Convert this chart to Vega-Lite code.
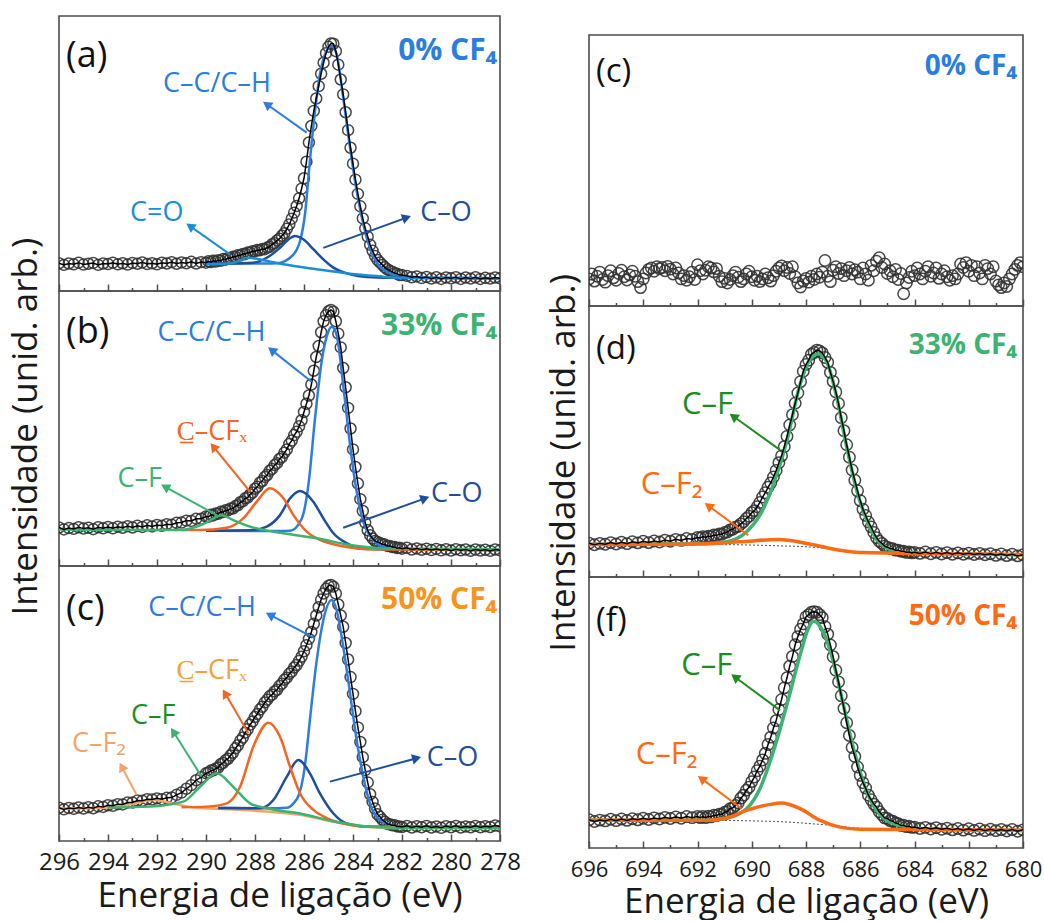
{
"$schema":"https://vega.github.io/schema/vega-lite/v6.json",
"padding":{"left":8,"top":15,"right":5,"bottom":0},
"config":{"font":"Open Sans","view":{"stroke":"#4d4d4d","strokeWidth":1.6},"axis":{"grid":false}},
"datasets":{
"a_pts":[{"x":296,"y":0.101},{"x":295.8,"y":0.095},{"x":295.6,"y":0.1},{"x":295.4,"y":0.097},{"x":295.2,"y":0.103},{"x":295,"y":0.096},{"x":294.8,"y":0.099},{"x":294.6,"y":0.102},{"x":294.4,"y":0.095},{"x":294.2,"y":0.1},{"x":294,"y":0.098},{"x":293.8,"y":0.103},{"x":293.6,"y":0.097},{"x":293.4,"y":0.101},{"x":293.2,"y":0.096},{"x":293,"y":0.102},{"x":292.8,"y":0.099},{"x":292.6,"y":0.104},{"x":292.4,"y":0.098},{"x":292.2,"y":0.101},{"x":292,"y":0.097},{"x":291.8,"y":0.103},{"x":291.6,"y":0.1},{"x":291.4,"y":0.105},{"x":291.2,"y":0.099},{"x":291,"y":0.104},{"x":290.8,"y":0.101},{"x":290.6,"y":0.106},{"x":290.4,"y":0.1},{"x":290.2,"y":0.105},
{"x":290,"y":0.103},{"x":289.9,"y":0.108},{"x":289.8,"y":0.105},{"x":289.7,"y":0.11},{"x":289.6,"y":0.107},{"x":289.5,"y":0.112},{"x":289.4,"y":0.11},{"x":289.3,"y":0.116},{"x":289.2,"y":0.114},{"x":289.1,"y":0.12},{"x":289,"y":0.119},{"x":288.9,"y":0.125},{"x":288.8,"y":0.124},{"x":288.7,"y":0.13},{"x":288.6,"y":0.129},{"x":288.5,"y":0.135},{"x":288.4,"y":0.134},{"x":288.3,"y":0.14},{"x":288.2,"y":0.139},{"x":288.1,"y":0.145},{"x":288,"y":0.144},{"x":287.9,"y":0.149},{"x":287.8,"y":0.148},{"x":287.7,"y":0.153},{"x":287.6,"y":0.152},{"x":287.5,"y":0.158},{"x":287.4,"y":0.161},{"x":287.3,"y":0.17},{"x":287.2,"y":0.174},{"x":287.1,"y":0.184},{"x":287,"y":0.19},{"x":286.9,"y":0.201},{"x":286.8,"y":0.21},{"x":286.7,"y":0.226},{"x":286.6,"y":0.242},{"x":286.5,"y":0.263},{"x":286.4,"y":0.285},{"x":286.3,"y":0.309},{"x":286.2,"y":0.337},{"x":286.1,"y":0.372},{"x":286,"y":0.41},{"x":285.9,"y":0.47},{"x":285.8,"y":0.54},{"x":285.7,"y":0.6},{"x":285.6,"y":0.655},{"x":285.5,"y":0.7},{"x":285.4,"y":0.745},{"x":285.3,"y":0.79},{"x":285.2,"y":0.83},{"x":285.1,"y":0.865},{"x":285,"y":0.888},{"x":284.9,"y":0.9},{"x":284.8,"y":0.899},{"x":284.7,"y":0.872},{"x":284.6,"y":0.823},{"x":284.5,"y":0.769},{"x":284.4,"y":0.715},{"x":284.3,"y":0.65},{"x":284.2,"y":0.585},{"x":284.1,"y":0.521},{"x":284,"y":0.463},{"x":283.9,"y":0.405},{"x":283.8,"y":0.353},{"x":283.7,"y":0.308},{"x":283.6,"y":0.264},{"x":283.5,"y":0.228},{"x":283.4,"y":0.198},{"x":283.3,"y":0.168},{"x":283.2,"y":0.146},{"x":283.1,"y":0.127},{"x":283,"y":0.113},{"x":282.9,"y":0.104},{"x":282.8,"y":0.095},{"x":282.7,"y":0.086},{"x":282.6,"y":0.079},{"x":282.5,"y":0.074},{"x":282.4,"y":0.07},{"x":282.3,"y":0.065},{"x":282.2,"y":0.063},{"x":282.1,"y":0.058},{"x":282,"y":0.058},
{"x":281.8,"y":0.055},{"x":281.6,"y":0.05},{"x":281.4,"y":0.053},{"x":281.2,"y":0.047},{"x":281,"y":0.051},{"x":280.8,"y":0.045},{"x":280.6,"y":0.05},{"x":280.4,"y":0.044},{"x":280.2,"y":0.049},{"x":280,"y":0.046},{"x":279.8,"y":0.05},{"x":279.6,"y":0.044},{"x":279.4,"y":0.049},{"x":279.2,"y":0.045},{"x":279,"y":0.05},{"x":278.8,"y":0.044},{"x":278.6,"y":0.048},{"x":278.4,"y":0.045},{"x":278.2,"y":0.049},{"x":278,"y":0.046}],
"a_cmp":[
{"k":"cc","x":290,"y":0.1},{"k":"cc","x":288.5,"y":0.1},{"k":"cc","x":287.5,"y":0.1},{"k":"cc","x":287.1,"y":0.101},{"k":"cc","x":286.8,"y":0.108},{"k":"cc","x":286.57,"y":0.121},{"k":"cc","x":286.3,"y":0.15},{"k":"cc","x":286.16,"y":0.182},{"k":"cc","x":285.96,"y":0.279},{"k":"cc","x":285.76,"y":0.473},{"k":"cc","x":285.55,"y":0.655},{"k":"cc","x":285.35,"y":0.788},{"k":"cc","x":285.14,"y":0.861},{"k":"cc","x":284.87,"y":0.891},{"k":"cc","x":284.67,"y":0.861},{"k":"cc","x":284.4,"y":0.703},{"k":"cc","x":284.12,"y":0.521},{"k":"cc","x":283.85,"y":0.364},{"k":"cc","x":283.58,"y":0.243},{"k":"cc","x":283.31,"y":0.157},{"k":"cc","x":283.03,"y":0.103},{"k":"cc","x":282.63,"y":0.07},{"k":"cc","x":282.08,"y":0.055},{"k":"cc","x":280,"y":0.047},{"k":"cc","x":278,"y":0.046},
{"k":"co","x":290,"y":0.1},{"k":"co","x":289,"y":0.1},{"k":"co","x":288.07,"y":0.103},{"k":"co","x":287.52,"y":0.121},{"k":"co","x":286.98,"y":0.157},{"k":"co","x":286.57,"y":0.192},{"k":"co","x":286.37,"y":0.2},{"k":"co","x":286.03,"y":0.188},{"k":"co","x":285.62,"y":0.152},{"k":"co","x":285.21,"y":0.115},{"k":"co","x":284.8,"y":0.085},{"k":"co","x":284.12,"y":0.061},{"k":"co","x":283.44,"y":0.051},{"k":"co","x":282.5,"y":0.048},{"k":"co","x":278,"y":0.046},
{"k":"ceo","x":290,"y":0.097},{"k":"ceo","x":289.7,"y":0.097},{"k":"ceo","x":288.89,"y":0.103},{"k":"ceo","x":288.27,"y":0.121},{"k":"ceo","x":287.66,"y":0.112},{"k":"ceo","x":286.84,"y":0.097},{"k":"ceo","x":285.48,"y":0.079},{"k":"ceo","x":284.12,"y":0.063},{"k":"ceo","x":282.76,"y":0.052},{"k":"ceo","x":282.08,"y":0.047},{"k":"ceo","x":278,"y":0.046}],
"a_arr":[{"x":285.89,"y":0.576,"x2":287.52,"y2":0.679,"a":-54.6,"k":"cc"},{"x":289.02,"y":0.133,"x2":290.65,"y2":0.236,"a":-54.7,"k":"ceo"},{"x":285.21,"y":0.157,"x2":281.81,"y2":0.267,"a":70.2,"k":"co"}],
"a_txt":[{"r":"g","x":295.71,"y":0.855,"t":"(a)"},{"r":"p","x":278.12,"y":0.871,"t":"0% CF₄","k":"p0"},{"r":"n","x":289.55,"y":0.753,"t":"C–C/C–H","k":"cc"},{"r":"n","x":292.01,"y":0.284,"t":"C=O","k":"ceo"},{"r":"n","x":280.2,"y":0.284,"t":"C–O","k":"co"}],
"b_pts":[{"x":296,"y":0.14},{"x":295.8,"y":0.133},{"x":295.6,"y":0.138},{"x":295.4,"y":0.135},{"x":295.2,"y":0.141},{"x":295,"y":0.136},{"x":294.8,"y":0.139},{"x":294.6,"y":0.134},{"x":294.4,"y":0.141},{"x":294.2,"y":0.137},{"x":294,"y":0.142},{"x":293.8,"y":0.137},{"x":293.6,"y":0.143},{"x":293.4,"y":0.139},{"x":293.2,"y":0.145},{"x":293,"y":0.14},{"x":292.8,"y":0.146},{"x":292.6,"y":0.142},{"x":292.4,"y":0.148},{"x":292.2,"y":0.144},{"x":292,"y":0.149},{"x":291.8,"y":0.146},{"x":291.6,"y":0.152},{"x":291.4,"y":0.15},{"x":291.2,"y":0.157},{"x":291,"y":0.158},{"x":290.8,"y":0.165},{"x":290.6,"y":0.164},{"x":290.4,"y":0.172},{"x":290.2,"y":0.172},
{"x":290,"y":0.18},{"x":289.9,"y":0.179},{"x":289.8,"y":0.186},{"x":289.7,"y":0.184},{"x":289.6,"y":0.191},{"x":289.5,"y":0.19},{"x":289.4,"y":0.197},{"x":289.3,"y":0.196},{"x":289.2,"y":0.203},{"x":289.1,"y":0.202},{"x":289,"y":0.209},{"x":288.9,"y":0.209},{"x":288.8,"y":0.218},{"x":288.7,"y":0.221},{"x":288.6,"y":0.232},{"x":288.5,"y":0.235},{"x":288.4,"y":0.246},{"x":288.3,"y":0.249},{"x":288.2,"y":0.26},{"x":288.1,"y":0.267},{"x":288,"y":0.281},{"x":287.9,"y":0.288},{"x":287.8,"y":0.303},{"x":287.7,"y":0.309},{"x":287.6,"y":0.324},{"x":287.5,"y":0.331},{"x":287.4,"y":0.346},{"x":287.3,"y":0.353},{"x":287.2,"y":0.367},{"x":287.1,"y":0.374},{"x":287,"y":0.389},{"x":286.9,"y":0.396},{"x":286.8,"y":0.412},{"x":286.7,"y":0.424},{"x":286.6,"y":0.444},{"x":286.5,"y":0.456},{"x":286.4,"y":0.476},{"x":286.3,"y":0.488},{"x":286.2,"y":0.508},{"x":286.1,"y":0.53},{"x":286,"y":0.56},{"x":285.9,"y":0.59},{"x":285.8,"y":0.62},{"x":285.7,"y":0.66},{"x":285.6,"y":0.71},{"x":285.5,"y":0.76},{"x":285.4,"y":0.8},{"x":285.3,"y":0.85},{"x":285.2,"y":0.89},{"x":285.1,"y":0.912},{"x":285,"y":0.926},{"x":284.9,"y":0.931},{"x":284.8,"y":0.925},{"x":284.7,"y":0.89},{"x":284.6,"y":0.845},{"x":284.5,"y":0.795},{"x":284.4,"y":0.72},{"x":284.3,"y":0.65},{"x":284.2,"y":0.575},{"x":284.1,"y":0.5},{"x":284,"y":0.424},{"x":283.9,"y":0.36},{"x":283.8,"y":0.3},{"x":283.7,"y":0.243},{"x":283.6,"y":0.2},{"x":283.5,"y":0.158},{"x":283.4,"y":0.13},{"x":283.3,"y":0.112},{"x":283.2,"y":0.1},{"x":283.1,"y":0.091},{"x":283,"y":0.087},{"x":282.9,"y":0.084},{"x":282.8,"y":0.079},{"x":282.7,"y":0.078},{"x":282.6,"y":0.073},{"x":282.5,"y":0.073},{"x":282.4,"y":0.069},{"x":282.3,"y":0.069},{"x":282.2,"y":0.065},{"x":282.1,"y":0.066},{"x":282,"y":0.063},
{"x":281.8,"y":0.066},{"x":281.6,"y":0.06},{"x":281.4,"y":0.064},{"x":281.2,"y":0.059},{"x":281,"y":0.063},{"x":280.8,"y":0.058},{"x":280.6,"y":0.062},{"x":280.4,"y":0.057},{"x":280.2,"y":0.061},{"x":280,"y":0.056},{"x":279.8,"y":0.061},{"x":279.6,"y":0.057},{"x":279.4,"y":0.06},{"x":279.2,"y":0.055},{"x":279,"y":0.06},{"x":278.8,"y":0.056},{"x":278.6,"y":0.059},{"x":278.4,"y":0.055},{"x":278.2,"y":0.06},{"x":278,"y":0.057}],
"b_cmp":[
{"k":"cc","x":290,"y":0.128},{"k":"cc","x":287,"y":0.127},{"k":"cc","x":286.57,"y":0.128},{"k":"cc","x":286.09,"y":0.173},{"k":"cc","x":285.82,"y":0.295},{"k":"cc","x":285.55,"y":0.537},{"k":"cc","x":285.28,"y":0.743},{"k":"cc","x":285.01,"y":0.852},{"k":"cc","x":284.87,"y":0.87},{"k":"cc","x":284.67,"y":0.84},{"k":"cc","x":284.4,"y":0.658},{"k":"cc","x":284.12,"y":0.44},{"k":"cc","x":283.85,"y":0.27},{"k":"cc","x":283.58,"y":0.161},{"k":"cc","x":283.17,"y":0.095},{"k":"cc","x":282.76,"y":0.07},{"k":"cc","x":282.08,"y":0.062},{"k":"cc","x":278,"y":0.058},
{"k":"co","x":290,"y":0.128},{"k":"co","x":288.07,"y":0.131},{"k":"co","x":287.52,"y":0.143},{"k":"co","x":286.98,"y":0.185},{"k":"co","x":286.57,"y":0.246},{"k":"co","x":286.16,"y":0.273},{"k":"co","x":285.62,"y":0.234},{"k":"co","x":285.21,"y":0.173},{"k":"co","x":284.8,"y":0.119},{"k":"co","x":284.26,"y":0.083},{"k":"co","x":283.71,"y":0.064},{"k":"co","x":282.76,"y":0.061},{"k":"co","x":278,"y":0.058},
{"k":"ccfx","x":291,"y":0.131},{"k":"ccfx","x":290.24,"y":0.131},{"k":"ccfx","x":289.15,"y":0.139},{"k":"ccfx","x":288.48,"y":0.173},{"k":"ccfx","x":287.93,"y":0.234},{"k":"ccfx","x":287.39,"y":0.283},{"k":"ccfx","x":286.84,"y":0.246},{"k":"ccfx","x":286.43,"y":0.185},{"k":"ccfx","x":285.89,"y":0.125},{"k":"ccfx","x":285.35,"y":0.095},{"k":"ccfx","x":284.8,"y":0.079},{"k":"ccfx","x":284.12,"y":0.067},{"k":"ccfx","x":283.44,"y":0.061},{"k":"ccfx","x":278,"y":0.058},
{"k":"cf","x":296,"y":0.133},{"k":"cf","x":291,"y":0.131},{"k":"cf","x":290.05,"y":0.155},{"k":"cf","x":289.36,"y":0.185},{"k":"cf","x":288.89,"y":0.167},{"k":"cf","x":288.2,"y":0.143},{"k":"cf","x":286.84,"y":0.119},{"k":"cf","x":285.48,"y":0.101},{"k":"cf","x":284.12,"y":0.076},{"k":"cf","x":282.76,"y":0.064},{"k":"cf","x":278,"y":0.061}],
"b_arr":[{"x":285.69,"y":0.67,"x2":287.32,"y2":0.785,"a":-51.6,"k":"cc"},{"x":288.2,"y":0.27,"x2":289.7,"y2":0.434,"a":-39.2,"k":"ccfx"},{"x":289.56,"y":0.185,"x2":291.67,"y2":0.288,"a":-61.3,"k":"cf"},{"x":284.4,"y":0.139,"x2":281.06,"y2":0.246,"a":70.3,"k":"co"}],
"b_txt":[{"r":"g","x":295.71,"y":0.851,"t":"(b)"},{"r":"p","x":278.12,"y":0.873,"t":"33% CF₄","k":"p33"},{"r":"n","x":289.78,"y":0.847,"t":"C–C/C–H","k":"cc"},{"r":"n","x":289.76,"y":0.487,"t":"C̲–CFₓ","k":"ccfx"},{"r":"n","x":292.71,"y":0.316,"t":"C–F","k":"cf"},{"r":"n","x":279.77,"y":0.262,"t":"C–O","k":"co"}],
"c_pts":[{"x":296,"y":0.121},{"x":295.8,"y":0.115},{"x":295.6,"y":0.12},{"x":295.4,"y":0.117},{"x":295.2,"y":0.122},{"x":295,"y":0.118},{"x":294.8,"y":0.123},{"x":294.6,"y":0.119},{"x":294.4,"y":0.126},{"x":294.2,"y":0.124},{"x":294,"y":0.13},{"x":293.8,"y":0.128},{"x":293.6,"y":0.134},{"x":293.4,"y":0.133},{"x":293.2,"y":0.14},{"x":293,"y":0.14},{"x":292.8,"y":0.147},{"x":292.6,"y":0.146},{"x":292.4,"y":0.152},{"x":292.2,"y":0.151},{"x":292,"y":0.155},{"x":291.8,"y":0.152},{"x":291.6,"y":0.157},{"x":291.4,"y":0.158},{"x":291.2,"y":0.168},{"x":291,"y":0.176},{"x":290.8,"y":0.19},{"x":290.6,"y":0.203},{"x":290.4,"y":0.221},{"x":290.2,"y":0.232},
{"x":290,"y":0.246},{"x":289.9,"y":0.249},{"x":289.8,"y":0.256},{"x":289.7,"y":0.257},{"x":289.6,"y":0.264},{"x":289.5,"y":0.267},{"x":289.4,"y":0.279},{"x":289.3,"y":0.284},{"x":289.2,"y":0.294},{"x":289.1,"y":0.299},{"x":289,"y":0.311},{"x":288.9,"y":0.321},{"x":288.8,"y":0.337},{"x":288.7,"y":0.348},{"x":288.6,"y":0.365},{"x":288.5,"y":0.376},{"x":288.4,"y":0.394},{"x":288.3,"y":0.406},{"x":288.2,"y":0.423},{"x":288.1,"y":0.435},{"x":288,"y":0.451},{"x":287.9,"y":0.462},{"x":287.8,"y":0.478},{"x":287.7,"y":0.488},{"x":287.6,"y":0.504},{"x":287.5,"y":0.514},{"x":287.4,"y":0.526},{"x":287.3,"y":0.532},{"x":287.2,"y":0.544},{"x":287.1,"y":0.55},{"x":287,"y":0.564},{"x":286.9,"y":0.572},{"x":286.8,"y":0.586},{"x":286.7,"y":0.594},{"x":286.6,"y":0.608},{"x":286.5,"y":0.616},{"x":286.4,"y":0.631},{"x":286.3,"y":0.64},{"x":286.2,"y":0.655},{"x":286.1,"y":0.67},{"x":286,"y":0.69},{"x":285.9,"y":0.712},{"x":285.8,"y":0.735},{"x":285.7,"y":0.76},{"x":285.6,"y":0.79},{"x":285.5,"y":0.82},{"x":285.4,"y":0.85},{"x":285.3,"y":0.878},{"x":285.2,"y":0.9},{"x":285.1,"y":0.917},{"x":285,"y":0.928},{"x":284.9,"y":0.931},{"x":284.8,"y":0.925},{"x":284.7,"y":0.9},{"x":284.6,"y":0.86},{"x":284.5,"y":0.82},{"x":284.4,"y":0.779},{"x":284.3,"y":0.72},{"x":284.2,"y":0.66},{"x":284.1,"y":0.596},{"x":284,"y":0.535},{"x":283.9,"y":0.472},{"x":283.8,"y":0.413},{"x":283.7,"y":0.36},{"x":283.6,"y":0.305},{"x":283.5,"y":0.258},{"x":283.4,"y":0.213},{"x":283.3,"y":0.17},{"x":283.2,"y":0.142},{"x":283.1,"y":0.118},{"x":283,"y":0.097},{"x":282.9,"y":0.088},{"x":282.8,"y":0.077},{"x":282.7,"y":0.07},{"x":282.6,"y":0.062},{"x":282.5,"y":0.061},{"x":282.4,"y":0.057},{"x":282.3,"y":0.057},{"x":282.2,"y":0.053},{"x":282.1,"y":0.053},{"x":282,"y":0.051},
{"x":281.8,"y":0.055},{"x":281.6,"y":0.049},{"x":281.4,"y":0.054},{"x":281.2,"y":0.05},{"x":281,"y":0.055},{"x":280.8,"y":0.049},{"x":280.6,"y":0.053},{"x":280.4,"y":0.048},{"x":280.2,"y":0.054},{"x":280,"y":0.05},{"x":279.8,"y":0.055},{"x":279.6,"y":0.049},{"x":279.4,"y":0.053},{"x":279.2,"y":0.05},{"x":279,"y":0.055},{"x":278.8,"y":0.05},{"x":278.6,"y":0.054},{"x":278.4,"y":0.051},{"x":278.2,"y":0.056},{"x":278,"y":0.053}],
"c_cmp":[
{"k":"cf2l","x":296,"y":0.118},{"k":"cf2l","x":294,"y":0.122},{"k":"cf2l","x":293,"y":0.135},{"k":"cf2l","x":292.15,"y":0.149},{"k":"cf2l","x":291.3,"y":0.135},{"k":"cf2l","x":290.5,"y":0.122},{"k":"cf2l","x":289,"y":0.115},{"k":"cf2l","x":287.52,"y":0.107},{"k":"cf2l","x":286.16,"y":0.095},{"k":"cf2l","x":284.8,"y":0.07},{"k":"cf2l","x":283.44,"y":0.052},{"k":"cf2l","x":282.08,"y":0.046},{"k":"cf2l","x":278,"y":0.046},
{"k":"cc","x":289.5,"y":0.12},{"k":"cc","x":287.52,"y":0.119},{"k":"cc","x":286.7,"y":0.121},{"k":"cc","x":286.43,"y":0.137},{"k":"cc","x":286.2,"y":0.17},{"k":"cc","x":286.03,"y":0.234},{"k":"cc","x":285.9,"y":0.32},{"k":"cc","x":285.76,"y":0.44},{"k":"cc","x":285.48,"y":0.658},{"k":"cc","x":285.21,"y":0.804},{"k":"cc","x":284.87,"y":0.876},{"k":"cc","x":284.67,"y":0.84},{"k":"cc","x":284.4,"y":0.707},{"k":"cc","x":284.12,"y":0.537},{"k":"cc","x":283.85,"y":0.367},{"k":"cc","x":283.58,"y":0.234},{"k":"cc","x":283.31,"y":0.137},{"k":"cc","x":282.9,"y":0.076},{"k":"cc","x":282.08,"y":0.052},{"k":"cc","x":278,"y":0.052},
{"k":"co","x":289.5,"y":0.12},{"k":"co","x":287.8,"y":0.119},{"k":"co","x":287.25,"y":0.149},{"k":"co","x":286.7,"y":0.234},{"k":"co","x":286.23,"y":0.295},{"k":"co","x":285.76,"y":0.246},{"k":"co","x":285.35,"y":0.173},{"k":"co","x":284.8,"y":0.1},{"k":"co","x":284.26,"y":0.064},{"k":"co","x":283.44,"y":0.052},{"k":"co","x":278,"y":0.052},
{"k":"ccfx","x":291,"y":0.123},{"k":"ccfx","x":289.97,"y":0.125},{"k":"ccfx","x":289.15,"y":0.137},{"k":"ccfx","x":288.61,"y":0.197},{"k":"ccfx","x":288.07,"y":0.343},{"k":"ccfx","x":287.45,"y":0.43},{"k":"ccfx","x":286.98,"y":0.379},{"k":"ccfx","x":286.57,"y":0.27},{"k":"ccfx","x":286.16,"y":0.173},{"k":"ccfx","x":285.62,"y":0.113},{"k":"ccfx","x":285.07,"y":0.083},{"k":"ccfx","x":284.12,"y":0.058},{"k":"ccfx","x":283.44,"y":0.052},{"k":"ccfx","x":278,"y":0.052},
{"k":"cf","x":294,"y":0.122},{"k":"cf","x":292.29,"y":0.125},{"k":"cf","x":290.93,"y":0.143},{"k":"cf","x":290.24,"y":0.197},{"k":"cf","x":289.56,"y":0.246},{"k":"cf","x":288.89,"y":0.197},{"k":"cf","x":288.2,"y":0.137},{"k":"cf","x":287.52,"y":0.119},{"k":"cf","x":286.16,"y":0.1},{"k":"cf","x":284.8,"y":0.072},{"k":"cf","x":283.44,"y":0.053},{"k":"cf","x":282,"y":0.048},{"k":"cf","x":278,"y":0.048}],
"c_arr":[{"x":285.55,"y":0.737,"x2":287.39,"y2":0.822,"a":-62.6,"k":"cc"},{"x":288.27,"y":0.392,"x2":289.22,"y2":0.537,"a":-30.2,"k":"ccfx"},{"x":290.18,"y":0.234,"x2":291.33,"y2":0.397,"a":-32.3,"k":"cf"},{"x":292.83,"y":0.167,"x2":293.44,"y2":0.27,"a":-27.9,"k":"cf2l"},{"x":284.94,"y":0.216,"x2":281.4,"y2":0.301,"a":74.9,"k":"co"}],
"c_txt":[{"r":"g","x":295.71,"y":0.844,"t":"(c)"},{"r":"p","x":278.12,"y":0.876,"t":"50% CF₄","k":"p50l"},{"r":"n","x":290.16,"y":0.849,"t":"C–C/C–H","k":"cc"},{"r":"n","x":289.77,"y":0.618,"t":"C̲–CFₓ","k":"ccfxl"},{"r":"n","x":292.15,"y":0.455,"t":"C–F","k":"cfd"},{"r":"n","x":294.37,"y":0.353,"t":"C–F₂","k":"cf2l"},{"r":"n","x":279.94,"y":0.302,"t":"C–O","k":"co"}],
"rc_pts":[{"x":696,"y":0.1},{"x":695.9,"y":0.118},{"x":695.8,"y":0.092},{"x":695.7,"y":0.11},{"x":695.6,"y":0.125},{"x":695.5,"y":0.098},{"x":695.4,"y":0.088},{"x":695.3,"y":0.112},{"x":695.2,"y":0.13},{"x":695.1,"y":0.104},{"x":695,"y":0.095},{"x":694.9,"y":0.12},{"x":694.8,"y":0.132},{"x":694.7,"y":0.108},{"x":694.6,"y":0.096},{"x":694.5,"y":0.115},{"x":694.4,"y":0.128},{"x":694.3,"y":0.11},{"x":694.2,"y":0.09},{"x":694.1,"y":0.068},{"x":694,"y":0.1},{"x":693.9,"y":0.122},{"x":693.8,"y":0.135},{"x":693.7,"y":0.14},{"x":693.6,"y":0.128},{"x":693.5,"y":0.145},{"x":693.4,"y":0.138},{"x":693.3,"y":0.142},{"x":693.2,"y":0.13},{"x":693.1,"y":0.146},{"x":693,"y":0.136},{"x":692.9,"y":0.118},{"x":692.8,"y":0.14},{"x":692.7,"y":0.122},{"x":692.6,"y":0.1},{"x":692.5,"y":0.112},{"x":692.4,"y":0.095},{"x":692.3,"y":0.108},{"x":692.2,"y":0.125},{"x":692.1,"y":0.098},{"x":692,"y":0.152},{"x":691.9,"y":0.13},{"x":691.8,"y":0.118},{"x":691.7,"y":0.132},{"x":691.6,"y":0.145},{"x":691.5,"y":0.14},{"x":691.4,"y":0.126},{"x":691.3,"y":0.138},{"x":691.2,"y":0.11},{"x":691.1,"y":0.09},{"x":691,"y":0.102},{"x":690.9,"y":0.085},{"x":690.8,"y":0.098},{"x":690.7,"y":0.112},{"x":690.6,"y":0.125},{"x":690.5,"y":0.106},{"x":690.4,"y":0.09},{"x":690.3,"y":0.1},{"x":690.2,"y":0.118},{"x":690.1,"y":0.128},{"x":690,"y":0.108},{"x":689.9,"y":0.095},{"x":689.8,"y":0.11},{"x":689.7,"y":0.09},{"x":689.6,"y":0.1},{"x":689.5,"y":0.118},{"x":689.4,"y":0.104},{"x":689.3,"y":0.092},{"x":689.2,"y":0.112},{"x":689.1,"y":0.128},{"x":689,"y":0.14},{"x":688.9,"y":0.148},{"x":688.8,"y":0.13},{"x":688.7,"y":0.142},{"x":688.6,"y":0.12},{"x":688.5,"y":0.145},{"x":688.4,"y":0.108},{"x":688.3,"y":0.085},{"x":688.2,"y":0.07},{"x":688.1,"y":0.092},{"x":688,"y":0.102},{"x":687.9,"y":0.088},{"x":687.8,"y":0.11},{"x":687.7,"y":0.098},{"x":687.6,"y":0.118},{"x":687.5,"y":0.106},{"x":687.4,"y":0.125},{"x":687.3,"y":0.168},{"x":687.2,"y":0.11},{"x":687.1,"y":0.09},{"x":687,"y":0.132},{"x":686.9,"y":0.145},{"x":686.8,"y":0.12},{"x":686.7,"y":0.138},{"x":686.6,"y":0.112},{"x":686.5,"y":0.13},{"x":686.4,"y":0.142},{"x":686.3,"y":0.118},{"x":686.2,"y":0.134},{"x":686.1,"y":0.125},{"x":686,"y":0.1},{"x":685.9,"y":0.14},{"x":685.8,"y":0.118},{"x":685.7,"y":0.095},{"x":685.6,"y":0.15},{"x":685.5,"y":0.13},{"x":685.4,"y":0.165},{"x":685.3,"y":0.178},{"x":685.2,"y":0.142},{"x":685.1,"y":0.155},{"x":685,"y":0.12},{"x":684.9,"y":0.13},{"x":684.8,"y":0.108},{"x":684.7,"y":0.135},{"x":684.6,"y":0.098},{"x":684.5,"y":0.12},{"x":684.4,"y":0.045},{"x":684.3,"y":0.085},{"x":684.2,"y":0.105},{"x":684.1,"y":0.128},{"x":684,"y":0.112},{"x":683.9,"y":0.14},{"x":683.8,"y":0.118},{"x":683.7,"y":0.1},{"x":683.6,"y":0.128},{"x":683.5,"y":0.145},{"x":683.4,"y":0.11},{"x":683.3,"y":0.122},{"x":683.2,"y":0.14},{"x":683.1,"y":0.102},{"x":683,"y":0.118},{"x":682.9,"y":0.13},{"x":682.8,"y":0.108},{"x":682.7,"y":0.095},{"x":682.6,"y":0.112},{"x":682.5,"y":0.1},{"x":682.4,"y":0.118},{"x":682.3,"y":0.155},{"x":682.2,"y":0.142},{"x":682.1,"y":0.16},{"x":682,"y":0.128},{"x":681.9,"y":0.15},{"x":681.8,"y":0.112},{"x":681.7,"y":0.145},{"x":681.6,"y":0.122},{"x":681.5,"y":0.1},{"x":681.4,"y":0.15},{"x":681.3,"y":0.138},{"x":681.2,"y":0.118},{"x":681.1,"y":0.145},{"x":681,"y":0.092},{"x":680.9,"y":0.078},{"x":680.8,"y":0.068},{"x":680.7,"y":0.085},{"x":680.6,"y":0.072},{"x":680.5,"y":0.1},{"x":680.4,"y":0.118},{"x":680.3,"y":0.135},{"x":680.2,"y":0.15},{"x":680.1,"y":0.16},{"x":680,"y":0.145}],
"rc_txt":[{"r":"g","x":695.74,"y":0.865,"t":"(c)"},{"r":"p","x":680.22,"y":0.882,"t":"0% CF₄","k":"p0"}],
"d_pts":[{"x":696,"y":0.125},{"x":695.8,"y":0.119},{"x":695.6,"y":0.124},{"x":695.4,"y":0.121},{"x":695.2,"y":0.127},{"x":695,"y":0.122},{"x":694.8,"y":0.128},{"x":694.6,"y":0.123},{"x":694.4,"y":0.13},{"x":694.2,"y":0.126},{"x":694,"y":0.132},{"x":693.8,"y":0.127},{"x":693.6,"y":0.133},{"x":693.4,"y":0.129},{"x":693.2,"y":0.136},{"x":693,"y":0.132},{"x":692.8,"y":0.139},{"x":692.6,"y":0.135},{"x":692.4,"y":0.142},{"x":692.2,"y":0.139},
{"x":692,"y":0.146},{"x":691.9,"y":0.144},{"x":691.8,"y":0.149},{"x":691.7,"y":0.146},{"x":691.6,"y":0.151},{"x":691.5,"y":0.149},{"x":691.4,"y":0.155},{"x":691.3,"y":0.153},{"x":691.2,"y":0.159},{"x":691.1,"y":0.158},{"x":691,"y":0.164},{"x":690.9,"y":0.166},{"x":690.8,"y":0.174},{"x":690.7,"y":0.176},{"x":690.6,"y":0.184},{"x":690.5,"y":0.187},{"x":690.4,"y":0.196},{"x":690.3,"y":0.204},{"x":690.2,"y":0.216},{"x":690.1,"y":0.224},{"x":690,"y":0.237},{"x":689.9,"y":0.245},{"x":689.8,"y":0.259},{"x":689.7,"y":0.275},{"x":689.6,"y":0.295},{"x":689.5,"y":0.311},{"x":689.4,"y":0.331},{"x":689.3,"y":0.347},{"x":689.2,"y":0.369},{"x":689.1,"y":0.393},{"x":689,"y":0.422},{"x":688.9,"y":0.447},{"x":688.8,"y":0.481},{"x":688.7,"y":0.519},{"x":688.6,"y":0.561},{"x":688.5,"y":0.599},{"x":688.4,"y":0.641},{"x":688.3,"y":0.679},{"x":688.2,"y":0.721},{"x":688.1,"y":0.759},{"x":688,"y":0.784},{"x":687.9,"y":0.8},{"x":687.8,"y":0.822},{"x":687.7,"y":0.829},{"x":687.6,"y":0.837},{"x":687.5,"y":0.834},{"x":687.4,"y":0.827},{"x":687.3,"y":0.81},{"x":687.2,"y":0.792},{"x":687.1,"y":0.755},{"x":687,"y":0.722},{"x":686.9,"y":0.683},{"x":686.8,"y":0.64},{"x":686.7,"y":0.588},{"x":686.6,"y":0.54},{"x":686.5,"y":0.488},{"x":686.4,"y":0.442},{"x":686.3,"y":0.395},{"x":686.2,"y":0.357},{"x":686.1,"y":0.318},{"x":686,"y":0.282},{"x":685.9,"y":0.25},{"x":685.8,"y":0.227},{"x":685.7,"y":0.203},{"x":685.6,"y":0.185},{"x":685.5,"y":0.164},{"x":685.4,"y":0.145},{"x":685.3,"y":0.132},{"x":685.2,"y":0.124},{"x":685.1,"y":0.114},{"x":685,"y":0.11},{"x":684.9,"y":0.105},{"x":684.8,"y":0.104},{"x":684.7,"y":0.099},{"x":684.6,"y":0.099},{"x":684.5,"y":0.095},{"x":684.4,"y":0.095},{"x":684.3,"y":0.091},{"x":684.2,"y":0.092},{"x":684.1,"y":0.089},{"x":684,"y":0.091},
{"x":683.8,"y":0.087},{"x":683.6,"y":0.092},{"x":683.4,"y":0.086},{"x":683.2,"y":0.091},{"x":683,"y":0.085},{"x":682.8,"y":0.09},{"x":682.6,"y":0.084},{"x":682.4,"y":0.089},{"x":682.2,"y":0.084},{"x":682,"y":0.088},{"x":681.8,"y":0.083},{"x":681.6,"y":0.087},{"x":681.4,"y":0.082},{"x":681.2,"y":0.086},{"x":681,"y":0.08},{"x":680.8,"y":0.085},{"x":680.6,"y":0.079},{"x":680.4,"y":0.084},{"x":680.2,"y":0.078},{"x":680,"y":0.082}],
"d_cmp":[
{"k":"cf","x":696,"y":0.121},{"k":"cf","x":691.5,"y":0.124},{"k":"cf","x":690.92,"y":0.13},{"k":"cf","x":690.19,"y":0.167},{"k":"cf","x":689.7,"y":0.228},{"k":"cf","x":689.21,"y":0.34},{"k":"cf","x":688.71,"y":0.5},{"k":"cf","x":688.22,"y":0.71},{"k":"cf","x":687.85,"y":0.803},{"k":"cf","x":687.55,"y":0.823},{"k":"cf","x":687.24,"y":0.795},{"k":"cf","x":686.87,"y":0.665},{"k":"cf","x":686.5,"y":0.48},{"k":"cf","x":686.13,"y":0.32},{"k":"cf","x":685.76,"y":0.21},{"k":"cf","x":685.39,"y":0.138},{"k":"cf","x":684.9,"y":0.102},{"k":"cf","x":684.29,"y":0.09},{"k":"cf","x":680,"y":0.082},
{"k":"cf2","x":696,"y":0.12},{"k":"cf2","x":693,"y":0.121},{"k":"cf2","x":691.66,"y":0.123},{"k":"cf2","x":690.43,"y":0.13},{"k":"cf2","x":689.02,"y":0.138},{"k":"cf2","x":687.92,"y":0.123},{"k":"cf2","x":686.75,"y":0.099},{"k":"cf2","x":685.88,"y":0.09},{"k":"cf2","x":684,"y":0.087},{"k":"cf2","x":680,"y":0.083}],
"d_bg":[{"x":696,"y":0.12},{"x":691.66,"y":0.12},{"x":689,"y":0.115},{"x":687.9,"y":0.111},{"x":686.6,"y":0.098},{"x":685.9,"y":0.09},{"x":684,"y":0.087},{"x":680,"y":0.083}],
"d_arr":[{"x":688.96,"y":0.469,"x2":690.68,"y2":0.593,"a":-54.5,"k":"cfd"},{"x":690.13,"y":0.154,"x2":691.6,"y2":0.263,"a":-53.8,"k":"cf2"}],
"d_txt":[{"r":"g","x":695.74,"y":0.843,"t":"(d)"},{"r":"p","x":680.22,"y":0.852,"t":"33% CF₄","k":"p33"},{"r":"n","x":691.63,"y":0.633,"t":"C–F","k":"cfd"},{"r":"n","x":692.95,"y":0.341,"t":"C–F₂","k":"cf2"}],
"f_pts":[{"x":696,"y":0.104},{"x":695.8,"y":0.098},{"x":695.6,"y":0.103},{"x":695.4,"y":0.1},{"x":695.2,"y":0.106},{"x":695,"y":0.101},{"x":694.8,"y":0.107},{"x":694.6,"y":0.102},{"x":694.4,"y":0.108},{"x":694.2,"y":0.104},{"x":694,"y":0.11},{"x":693.8,"y":0.105},{"x":693.6,"y":0.111},{"x":693.4,"y":0.107},{"x":693.2,"y":0.113},{"x":693,"y":0.109},{"x":692.8,"y":0.115},{"x":692.6,"y":0.11},{"x":692.4,"y":0.116},{"x":692.2,"y":0.112},
{"x":692,"y":0.116},{"x":691.9,"y":0.112},{"x":691.8,"y":0.116},{"x":691.7,"y":0.112},{"x":691.6,"y":0.117},{"x":691.5,"y":0.115},{"x":691.4,"y":0.121},{"x":691.3,"y":0.119},{"x":691.2,"y":0.125},{"x":691.1,"y":0.124},{"x":691,"y":0.132},{"x":690.9,"y":0.135},{"x":690.8,"y":0.145},{"x":690.7,"y":0.148},{"x":690.6,"y":0.157},{"x":690.5,"y":0.166},{"x":690.4,"y":0.184},{"x":690.3,"y":0.195},{"x":690.2,"y":0.213},{"x":690.1,"y":0.224},{"x":690,"y":0.245},{"x":689.9,"y":0.262},{"x":689.8,"y":0.285},{"x":689.7,"y":0.302},{"x":689.6,"y":0.325},{"x":689.5,"y":0.349},{"x":689.4,"y":0.382},{"x":689.3,"y":0.409},{"x":689.2,"y":0.443},{"x":689.1,"y":0.47},{"x":689,"y":0.511},{"x":688.9,"y":0.548},{"x":688.8,"y":0.591},{"x":688.7,"y":0.628},{"x":688.6,"y":0.671},{"x":688.5,"y":0.707},{"x":688.4,"y":0.75},{"x":688.3,"y":0.78},{"x":688.2,"y":0.807},{"x":688.1,"y":0.827},{"x":688,"y":0.853},{"x":687.9,"y":0.861},{"x":687.8,"y":0.87},{"x":687.7,"y":0.872},{"x":687.6,"y":0.87},{"x":687.5,"y":0.861},{"x":687.4,"y":0.85},{"x":687.3,"y":0.817},{"x":687.2,"y":0.789},{"x":687.1,"y":0.749},{"x":687,"y":0.706},{"x":686.9,"y":0.656},{"x":686.8,"y":0.613},{"x":686.7,"y":0.562},{"x":686.6,"y":0.515},{"x":686.5,"y":0.462},{"x":686.4,"y":0.415},{"x":686.3,"y":0.371},{"x":686.2,"y":0.338},{"x":686.1,"y":0.299},{"x":686,"y":0.268},{"x":685.9,"y":0.241},{"x":685.8,"y":0.221},{"x":685.7,"y":0.195},{"x":685.6,"y":0.178},{"x":685.5,"y":0.162},{"x":685.4,"y":0.151},{"x":685.3,"y":0.134},{"x":685.2,"y":0.123},{"x":685.1,"y":0.111},{"x":685,"y":0.109},{"x":684.9,"y":0.101},{"x":684.8,"y":0.099},{"x":684.7,"y":0.092},{"x":684.6,"y":0.09},{"x":684.5,"y":0.083},{"x":684.4,"y":0.084},{"x":684.3,"y":0.079},{"x":684.2,"y":0.08},{"x":684.1,"y":0.076},{"x":684,"y":0.077},
{"x":683.8,"y":0.072},{"x":683.6,"y":0.076},{"x":683.4,"y":0.07},{"x":683.2,"y":0.075},{"x":683,"y":0.069},{"x":682.8,"y":0.073},{"x":682.6,"y":0.067},{"x":682.4,"y":0.072},{"x":682.2,"y":0.066},{"x":682,"y":0.071},{"x":681.8,"y":0.065},{"x":681.6,"y":0.07},{"x":681.4,"y":0.064},{"x":681.2,"y":0.069},{"x":681,"y":0.064},{"x":680.8,"y":0.068},{"x":680.6,"y":0.063},{"x":680.4,"y":0.068},{"x":680.2,"y":0.062},{"x":680,"y":0.067}],
"f_cmp":[
{"k":"cf","x":696,"y":0.102},{"k":"cf","x":691.66,"y":0.102},{"k":"cf","x":690.92,"y":0.11},{"k":"cf","x":690.19,"y":0.145},{"k":"cf","x":689.7,"y":0.219},{"k":"cf","x":689.21,"y":0.354},{"k":"cf","x":688.71,"y":0.527},{"k":"cf","x":688.22,"y":0.711},{"k":"cf","x":687.92,"y":0.809},{"k":"cf","x":687.73,"y":0.837},{"k":"cf","x":687.36,"y":0.797},{"k":"cf","x":686.99,"y":0.686},{"k":"cf","x":686.62,"y":0.527},{"k":"cf","x":686.25,"y":0.367},{"k":"cf","x":685.89,"y":0.244},{"k":"cf","x":685.52,"y":0.157},{"k":"cf","x":685.03,"y":0.102},{"k":"cf","x":684.29,"y":0.077},{"k":"cf","x":683.68,"y":0.071},{"k":"cf","x":680,"y":0.065},
{"k":"cf2","x":696,"y":0.102},{"k":"cf2","x":691.66,"y":0.102},{"k":"cf2","x":690.92,"y":0.111},{"k":"cf2","x":690.19,"y":0.139},{"k":"cf2","x":689.33,"y":0.161},{"k":"cf2","x":688.9,"y":0.166},{"k":"cf2","x":688.22,"y":0.145},{"k":"cf2","x":687.48,"y":0.102},{"k":"cf2","x":686.75,"y":0.077},{"k":"cf2","x":686.01,"y":0.069},{"k":"cf2","x":680,"y":0.065}],
"f_bg":[{"x":696,"y":0.102},{"x":691.66,"y":0.102},{"x":689.2,"y":0.098},{"x":687.36,"y":0.086},{"x":686.13,"y":0.074},{"x":684.9,"y":0.069},{"x":680,"y":0.065}],
"f_arr":[{"x":688.96,"y":0.508,"x2":690.62,"y2":0.631,"a":-53.5,"k":"cfd"},{"x":690.37,"y":0.145,"x2":691.85,"y2":0.256,"a":-53.1,"k":"cf2"}],
"f_txt":[{"r":"g","x":695.74,"y":0.838,"t":"(f)"},{"r":"p","x":680.22,"y":0.852,"t":"50% CF₄","k":"p50r"},{"r":"n","x":691.66,"y":0.672,"t":"C–F","k":"cfd"},{"r":"n","x":693.14,"y":0.343,"t":"C–F₂","k":"cf2"}]
},
"columns":2,
"align":"none",
"spacing":25,
"concat":[
{"spacing":0,"bounds":"flush","title":{"text":"Intensidade (unid. arb.)","orient":"left","anchor":"middle","frame":"bounds","fontSize":35,"fontWeight":"normal","color":"#1a1a1a","offset":-6,"dx":38},"vconcat":[
{"width":441,"height":275,
"encoding":{"x":{"field":"x","type":"quantitative","scale":{"domain":[296,278],"nice":false,"zero":false},"axis":null},"y":{"field":"y","type":"quantitative","scale":{"domain":[0,1],"nice":false,"zero":false},"axis":null}},
"layer":[
{"data":{"name":"a_pts"},"mark":{"type":"point","shape":"circle","filled":false,"size":120,"color":"#333","strokeWidth":1.5,"opacity":0.9,"clip":true},"encoding":{"x":{"field":"x","type":"quantitative","scale":{"domain":[296,278],"nice":false,"zero":false},"axis":{"orient":"bottom","values":[296,294,292,290,288,286,284,282,280,278],"tickSize":-7,"tickWidth":1.5,"tickColor":"#4d4d4d","labels":false,"domain":false,"title":null,"grid":false}}}},
{"data":{"name":"a_cmp"},"mark":{"type":"line","strokeWidth":2.5,"interpolate":"monotone","clip":true},"encoding":{"color":{"field":"k","type":"nominal","scale":{"domain":["cc","co","ceo","ccfx","ccfxl","cf","cfd","cf2l","cf2","p0","p33","p50l","p50r"],"range":["#2b7de0","#1f4e9a","#1b8fd2","#f26522","#f4a040","#3cb371","#1e8c1e","#f5a36c","#ff6a13","#2b7de0","#3cb371","#f7941d","#ff6a13"]},"legend":null}}},
{"data":{"name":"a_pts"},"mark":{"type":"line","color":"#000","strokeWidth":1.5,"clip":true}},
{"data":{"name":"a_arr"},"mark":{"type":"rule","strokeWidth":2},"encoding":{"x2":{"field":"x2"},"y2":{"field":"y2"},"color":{"field":"k","type":"nominal","legend":null}}},
{"data":{"name":"a_arr"},"mark":{"type":"point","shape":"triangle-up","filled":true,"size":110,"opacity":1},"encoding":{"x":{"field":"x2","type":"quantitative","scale":{"domain":[296,278],"nice":false,"zero":false},"axis":null},"y":{"field":"y2","type":"quantitative","scale":{"domain":[0,1],"nice":false,"zero":false},"axis":null},"angle":{"field":"a","type":"quantitative","scale":null},"color":{"field":"k","type":"nominal","legend":null}}},
{"data":{"name":"a_txt"},"transform":[{"filter":"datum.r=='n'"}],"mark":{"type":"text","fontSize":27,"align":"center","baseline":"middle"},"encoding":{"text":{"field":"t"},"color":{"field":"k","type":"nominal","legend":null}}},
{"data":{"name":"a_txt"},"transform":[{"filter":"datum.r=='p'"}],"mark":{"type":"text","fontSize":30,"fontWeight":"bold","align":"right","baseline":"middle"},"encoding":{"text":{"field":"t"},"color":{"field":"k","type":"nominal","legend":null}}},
{"data":{"name":"a_txt"},"transform":[{"filter":"datum.r=='g'"}],"mark":{"type":"text","fontSize":36,"align":"left","baseline":"middle","color":"#111"},"encoding":{"text":{"field":"t"},"x":{"field":"x","type":"quantitative","scale":{"domain":[296,278],"nice":false,"zero":false},"axis":{"orient":"bottom","values":[295,293,291,289,287,285,283,281,279],"tickSize":-3.5,"tickWidth":1.5,"tickColor":"#4d4d4d","labels":false,"domain":false,"title":null,"grid":false}}}}
],
"resolve":{"axis":{"x":"independent"}}},
{"width":441,"height":275,
"encoding":{"x":{"field":"x","type":"quantitative","scale":{"domain":[296,278],"nice":false,"zero":false},"axis":null},"y":{"field":"y","type":"quantitative","scale":{"domain":[0,1],"nice":false,"zero":false},"axis":null}},
"layer":[
{"data":{"name":"b_pts"},"mark":{"type":"point","shape":"circle","filled":false,"size":120,"color":"#333","strokeWidth":1.5,"opacity":0.9,"clip":true},"encoding":{"x":{"field":"x","type":"quantitative","scale":{"domain":[296,278],"nice":false,"zero":false},"axis":{"orient":"bottom","values":[296,294,292,290,288,286,284,282,280,278],"tickSize":-7,"tickWidth":1.5,"tickColor":"#4d4d4d","labels":false,"domain":false,"title":null,"grid":false}}}},
{"data":{"name":"b_cmp"},"mark":{"type":"line","strokeWidth":2.5,"interpolate":"monotone","clip":true},"encoding":{"color":{"field":"k","type":"nominal","scale":{"domain":["cc","co","ceo","ccfx","ccfxl","cf","cfd","cf2l","cf2","p0","p33","p50l","p50r"],"range":["#2b7de0","#1f4e9a","#1b8fd2","#f26522","#f4a040","#3cb371","#1e8c1e","#f5a36c","#ff6a13","#2b7de0","#3cb371","#f7941d","#ff6a13"]},"legend":null}}},
{"data":{"name":"b_pts"},"mark":{"type":"line","color":"#000","strokeWidth":1.5,"clip":true}},
{"data":{"name":"b_arr"},"mark":{"type":"rule","strokeWidth":2},"encoding":{"x2":{"field":"x2"},"y2":{"field":"y2"},"color":{"field":"k","type":"nominal","legend":null}}},
{"data":{"name":"b_arr"},"mark":{"type":"point","shape":"triangle-up","filled":true,"size":110,"opacity":1},"encoding":{"x":{"field":"x2","type":"quantitative","scale":{"domain":[296,278],"nice":false,"zero":false},"axis":null},"y":{"field":"y2","type":"quantitative","scale":{"domain":[0,1],"nice":false,"zero":false},"axis":null},"angle":{"field":"a","type":"quantitative","scale":null},"color":{"field":"k","type":"nominal","legend":null}}},
{"data":{"name":"b_txt"},"transform":[{"filter":"datum.r=='n'"}],"mark":{"type":"text","fontSize":27,"align":"center","baseline":"middle"},"encoding":{"text":{"field":"t"},"color":{"field":"k","type":"nominal","legend":null}}},
{"data":{"name":"b_txt"},"transform":[{"filter":"datum.r=='p'"}],"mark":{"type":"text","fontSize":30,"fontWeight":"bold","align":"right","baseline":"middle"},"encoding":{"text":{"field":"t"},"color":{"field":"k","type":"nominal","legend":null}}},
{"data":{"name":"b_txt"},"transform":[{"filter":"datum.r=='g'"}],"mark":{"type":"text","fontSize":36,"align":"left","baseline":"middle","color":"#111"},"encoding":{"text":{"field":"t"},"x":{"field":"x","type":"quantitative","scale":{"domain":[296,278],"nice":false,"zero":false},"axis":{"orient":"bottom","values":[295,293,291,289,287,285,283,281,279],"tickSize":-3.5,"tickWidth":1.5,"tickColor":"#4d4d4d","labels":false,"domain":false,"title":null,"grid":false}}}}
],
"resolve":{"axis":{"x":"independent"}}},
{"width":441,"height":275,
"encoding":{"x":{"field":"x","type":"quantitative","scale":{"domain":[296,278],"nice":false,"zero":false},"axis":null},"y":{"field":"y","type":"quantitative","scale":{"domain":[0,1],"nice":false,"zero":false},"axis":null}},
"layer":[
{"data":{"name":"c_pts"},"mark":{"type":"point","shape":"circle","filled":false,"size":120,"color":"#333","strokeWidth":1.5,"opacity":0.9,"clip":true},"encoding":{"x":{"field":"x","type":"quantitative","scale":{"domain":[296,278],"nice":false,"zero":false},"axis":{"orient":"bottom","values":[296,294,292,290,288,286,284,282,280,278],"tickSize":-7,"tickWidth":1.5,"tickColor":"#4d4d4d","labels":false,"domain":false,"title":null,"grid":false}}}},
{"data":{"name":"c_cmp"},"mark":{"type":"line","strokeWidth":2.5,"interpolate":"monotone","clip":true},"encoding":{"color":{"field":"k","type":"nominal","scale":{"domain":["cc","co","ceo","ccfx","ccfxl","cf","cfd","cf2l","cf2","p0","p33","p50l","p50r"],"range":["#2b7de0","#1f4e9a","#1b8fd2","#f26522","#f4a040","#3cb371","#1e8c1e","#f5a36c","#ff6a13","#2b7de0","#3cb371","#f7941d","#ff6a13"]},"legend":null}}},
{"data":{"name":"c_pts"},"mark":{"type":"line","color":"#000","strokeWidth":1.5,"clip":true}},
{"data":{"name":"c_arr"},"mark":{"type":"rule","strokeWidth":2},"encoding":{"x2":{"field":"x2"},"y2":{"field":"y2"},"color":{"field":"k","type":"nominal","legend":null}}},
{"data":{"name":"c_arr"},"mark":{"type":"point","shape":"triangle-up","filled":true,"size":110,"opacity":1},"encoding":{"x":{"field":"x2","type":"quantitative","scale":{"domain":[296,278],"nice":false,"zero":false},"axis":null},"y":{"field":"y2","type":"quantitative","scale":{"domain":[0,1],"nice":false,"zero":false},"axis":null},"angle":{"field":"a","type":"quantitative","scale":null},"color":{"field":"k","type":"nominal","legend":null}}},
{"data":{"name":"c_txt"},"transform":[{"filter":"datum.r=='n'"}],"mark":{"type":"text","fontSize":27,"align":"center","baseline":"middle"},"encoding":{"text":{"field":"t"},"color":{"field":"k","type":"nominal","legend":null}}},
{"data":{"name":"c_txt"},"transform":[{"filter":"datum.r=='p'"}],"mark":{"type":"text","fontSize":30,"fontWeight":"bold","align":"right","baseline":"middle"},"encoding":{"text":{"field":"t"},"color":{"field":"k","type":"nominal","legend":null},"x":{"field":"x","type":"quantitative","scale":{"domain":[296,278],"nice":false,"zero":false},"axis":{"orient":"bottom","values":[296,294,292,290,288,286,284,282,280,278],"ticks":false,"labels":true,"domain":false,"grid":false,"labelFontSize":24,"labelColor":"#1a1a1a","labelPadding":9,"labelFlush":false,"labelOverlap":false,"format":"d","title":"Energia de ligação (eV)","titleFontSize":35,"titleFontWeight":"normal","titleColor":"#1a1a1a","titlePadding":4}}}},
{"data":{"name":"c_txt"},"transform":[{"filter":"datum.r=='g'"}],"mark":{"type":"text","fontSize":36,"align":"left","baseline":"middle","color":"#111"},"encoding":{"text":{"field":"t"},"x":{"field":"x","type":"quantitative","scale":{"domain":[296,278],"nice":false,"zero":false},"axis":{"orient":"bottom","values":[295,293,291,289,287,285,283,281,279],"tickSize":-3.5,"tickWidth":1.5,"tickColor":"#4d4d4d","labels":false,"domain":false,"title":null,"grid":false}}}}
],
"resolve":{"axis":{"x":"independent"}}}
]},
{"spacing":0,"bounds":"flush","title":{"text":"Intensidade (unid. arb.)","orient":"left","anchor":"middle","frame":"bounds","fontSize":35,"fontWeight":"normal","color":"#1a1a1a","offset":-13,"dx":5},"vconcat":[
{"width":434,"height":19,"view":{"stroke":null},"data":{"values":[]},"mark":{"type":"text"},"encoding":{}},
{"width":434,"height":271,
"encoding":{"x":{"field":"x","type":"quantitative","scale":{"domain":[696,680],"nice":false,"zero":false},"axis":null},"y":{"field":"y","type":"quantitative","scale":{"domain":[0,1],"nice":false,"zero":false},"axis":null}},
"layer":[
{"data":{"name":"rc_pts"},"mark":{"type":"point","shape":"circle","filled":false,"size":130,"color":"#333","strokeWidth":1.5,"opacity":0.9,"clip":true},"encoding":{"x":{"field":"x","type":"quantitative","scale":{"domain":[696,680],"nice":false,"zero":false},"axis":{"orient":"bottom","values":[696,694,692,690,688,686,684,682,680],"tickSize":-7,"tickWidth":1.5,"tickColor":"#4d4d4d","labels":false,"domain":false,"title":null,"grid":false}}}},
{"data":{"name":"rc_txt"},"transform":[{"filter":"datum.r=='p'"}],"mark":{"type":"text","fontSize":28,"fontWeight":"bold","align":"right","baseline":"middle"},"encoding":{"text":{"field":"t"},"color":{"field":"k","type":"nominal","scale":{"domain":["cc","co","ceo","ccfx","ccfxl","cf","cfd","cf2l","cf2","p0","p33","p50l","p50r"],"range":["#2b7de0","#1f4e9a","#1b8fd2","#f26522","#f4a040","#3cb371","#1e8c1e","#f5a36c","#ff6a13","#2b7de0","#3cb371","#f7941d","#ff6a13"]},"legend":null}}},
{"data":{"name":"rc_txt"},"transform":[{"filter":"datum.r=='g'"}],"mark":{"type":"text","fontSize":33,"align":"left","baseline":"middle","color":"#111"},"encoding":{"text":{"field":"t"},"x":{"field":"x","type":"quantitative","scale":{"domain":[696,680],"nice":false,"zero":false},"axis":{"orient":"bottom","values":[695,693,691,689,687,685,683,681],"tickSize":-3.5,"tickWidth":1.5,"tickColor":"#4d4d4d","labels":false,"domain":false,"title":null,"grid":false}}}}
],
"resolve":{"axis":{"x":"independent"}}},
{"width":434,"height":271,
"encoding":{"x":{"field":"x","type":"quantitative","scale":{"domain":[696,680],"nice":false,"zero":false},"axis":null},"y":{"field":"y","type":"quantitative","scale":{"domain":[0,1],"nice":false,"zero":false},"axis":null}},
"layer":[
{"data":{"name":"d_pts"},"mark":{"type":"point","shape":"circle","filled":false,"size":130,"color":"#333","strokeWidth":1.5,"opacity":0.9,"clip":true},"encoding":{"x":{"field":"x","type":"quantitative","scale":{"domain":[696,680],"nice":false,"zero":false},"axis":{"orient":"bottom","values":[696,694,692,690,688,686,684,682,680],"tickSize":-7,"tickWidth":1.5,"tickColor":"#4d4d4d","labels":false,"domain":false,"title":null,"grid":false}}}},
{"data":{"name":"d_bg"},"mark":{"type":"line","color":"#222","strokeWidth":0.8,"strokeDash":[2,2],"interpolate":"monotone","clip":true}},
{"data":{"name":"d_cmp"},"mark":{"type":"line","strokeWidth":3.5,"interpolate":"monotone","clip":true},"encoding":{"color":{"field":"k","type":"nominal","scale":{"domain":["cc","co","ceo","ccfx","ccfxl","cf","cfd","cf2l","cf2","p0","p33","p50l","p50r"],"range":["#2b7de0","#1f4e9a","#1b8fd2","#f26522","#f4a040","#3cb371","#1e8c1e","#f5a36c","#ff6a13","#2b7de0","#3cb371","#f7941d","#ff6a13"]},"legend":null}}},
{"data":{"name":"d_pts"},"mark":{"type":"line","color":"#000","strokeWidth":1.5,"clip":true}},
{"data":{"name":"d_arr"},"mark":{"type":"rule","strokeWidth":2},"encoding":{"x2":{"field":"x2"},"y2":{"field":"y2"},"color":{"field":"k","type":"nominal","legend":null}}},
{"data":{"name":"d_arr"},"mark":{"type":"point","shape":"triangle-up","filled":true,"size":110,"opacity":1},"encoding":{"x":{"field":"x2","type":"quantitative","scale":{"domain":[696,680],"nice":false,"zero":false},"axis":null},"y":{"field":"y2","type":"quantitative","scale":{"domain":[0,1],"nice":false,"zero":false},"axis":null},"angle":{"field":"a","type":"quantitative","scale":null},"color":{"field":"k","type":"nominal","legend":null}}},
{"data":{"name":"d_txt"},"transform":[{"filter":"datum.r=='n'"}],"mark":{"type":"text","fontSize":31,"align":"center","baseline":"middle"},"encoding":{"text":{"field":"t"},"color":{"field":"k","type":"nominal","legend":null}}},
{"data":{"name":"d_txt"},"transform":[{"filter":"datum.r=='p'"}],"mark":{"type":"text","fontSize":28,"fontWeight":"bold","align":"right","baseline":"middle"},"encoding":{"text":{"field":"t"},"color":{"field":"k","type":"nominal","legend":null}}},
{"data":{"name":"d_txt"},"transform":[{"filter":"datum.r=='g'"}],"mark":{"type":"text","fontSize":33,"align":"left","baseline":"middle","color":"#111"},"encoding":{"text":{"field":"t"},"x":{"field":"x","type":"quantitative","scale":{"domain":[696,680],"nice":false,"zero":false},"axis":{"orient":"bottom","values":[695,693,691,689,687,685,683,681],"tickSize":-3.5,"tickWidth":1.5,"tickColor":"#4d4d4d","labels":false,"domain":false,"title":null,"grid":false}}}}
],
"resolve":{"axis":{"x":"independent"}}},
{"width":434,"height":271,
"encoding":{"x":{"field":"x","type":"quantitative","scale":{"domain":[696,680],"nice":false,"zero":false},"axis":null},"y":{"field":"y","type":"quantitative","scale":{"domain":[0,1],"nice":false,"zero":false},"axis":null}},
"layer":[
{"data":{"name":"f_pts"},"mark":{"type":"point","shape":"circle","filled":false,"size":130,"color":"#333","strokeWidth":1.5,"opacity":0.9,"clip":true},"encoding":{"x":{"field":"x","type":"quantitative","scale":{"domain":[696,680],"nice":false,"zero":false},"axis":{"orient":"bottom","values":[696,694,692,690,688,686,684,682,680],"tickSize":-7,"tickWidth":1.5,"tickColor":"#4d4d4d","labels":false,"domain":false,"title":null,"grid":false}}}},
{"data":{"name":"f_bg"},"mark":{"type":"line","color":"#222","strokeWidth":0.8,"strokeDash":[2,2],"interpolate":"monotone","clip":true}},
{"data":{"name":"f_cmp"},"mark":{"type":"line","strokeWidth":3.5,"interpolate":"monotone","clip":true},"encoding":{"color":{"field":"k","type":"nominal","scale":{"domain":["cc","co","ceo","ccfx","ccfxl","cf","cfd","cf2l","cf2","p0","p33","p50l","p50r"],"range":["#2b7de0","#1f4e9a","#1b8fd2","#f26522","#f4a040","#3cb371","#1e8c1e","#f5a36c","#ff6a13","#2b7de0","#3cb371","#f7941d","#ff6a13"]},"legend":null}}},
{"data":{"name":"f_pts"},"mark":{"type":"line","color":"#000","strokeWidth":1.5,"clip":true}},
{"data":{"name":"f_arr"},"mark":{"type":"rule","strokeWidth":2},"encoding":{"x2":{"field":"x2"},"y2":{"field":"y2"},"color":{"field":"k","type":"nominal","legend":null}}},
{"data":{"name":"f_arr"},"mark":{"type":"point","shape":"triangle-up","filled":true,"size":110,"opacity":1},"encoding":{"x":{"field":"x2","type":"quantitative","scale":{"domain":[696,680],"nice":false,"zero":false},"axis":null},"y":{"field":"y2","type":"quantitative","scale":{"domain":[0,1],"nice":false,"zero":false},"axis":null},"angle":{"field":"a","type":"quantitative","scale":null},"color":{"field":"k","type":"nominal","legend":null}}},
{"data":{"name":"f_txt"},"transform":[{"filter":"datum.r=='n'"}],"mark":{"type":"text","fontSize":31,"align":"center","baseline":"middle"},"encoding":{"text":{"field":"t"},"color":{"field":"k","type":"nominal","legend":null}}},
{"data":{"name":"f_txt"},"transform":[{"filter":"datum.r=='p'"}],"mark":{"type":"text","fontSize":28,"fontWeight":"bold","align":"right","baseline":"middle"},"encoding":{"text":{"field":"t"},"color":{"field":"k","type":"nominal","legend":null},"x":{"field":"x","type":"quantitative","scale":{"domain":[696,680],"nice":false,"zero":false},"axis":{"orient":"bottom","values":[696,694,692,690,688,686,684,682,680],"ticks":false,"labels":true,"domain":false,"grid":false,"labelFontSize":22,"labelColor":"#1a1a1a","labelPadding":11,"labelFlush":false,"labelOverlap":false,"format":"d","title":"Energia de ligação (eV)","titleFontSize":35,"titleFontWeight":"normal","titleColor":"#1a1a1a","titlePadding":4}}}},
{"data":{"name":"f_txt"},"transform":[{"filter":"datum.r=='g'"}],"mark":{"type":"text","fontSize":33,"align":"left","baseline":"middle","color":"#111"},"encoding":{"text":{"field":"t"},"x":{"field":"x","type":"quantitative","scale":{"domain":[696,680],"nice":false,"zero":false},"axis":{"orient":"bottom","values":[695,693,691,689,687,685,683,681],"tickSize":-3.5,"tickWidth":1.5,"tickColor":"#4d4d4d","labels":false,"domain":false,"title":null,"grid":false}}}}
],
"resolve":{"axis":{"x":"independent"}}}
]}
]
}
